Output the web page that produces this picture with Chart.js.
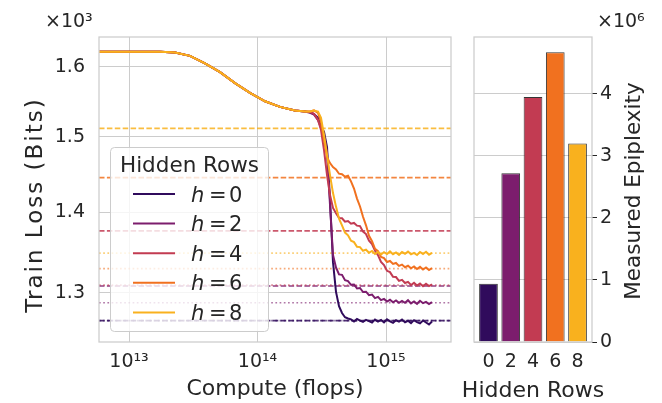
<!DOCTYPE html>
<html>
<head>
<meta charset="utf-8">
<script src="https://cdn.jsdelivr.net/npm/chart.js@4.4.1/dist/chart.umd.min.js"></script>
<style>
  html, body { margin: 0; padding: 0; background: #ffffff; }
  #wrap { position: relative; width: 662px; height: 403px; }
  canvas { position: absolute; top: 0; }
  #loss { left: 0; }
  #epi { left: 462px; }
</style>
</head>
<body>
<div id="wrap">
  <canvas id="loss" width="462" height="403"></canvas>
  <canvas id="epi" width="200" height="403"></canvas>
</div>
<script>
const FONT = 'DejaVu Sans';
const INK = '#262626';
const EDGE = '#cccccc';

// Hidden-row settings and their inferno colours
const hiddenRows = [0, 2, 4, 6, 8];
const rowColors = ['#300b5c', '#7c1d6d', '#c23b52', '#f1711f', '#f9b11e'];

// Training compute (flops) shared by every run
const compute = [
  5.84e12, 1.018e13, 1.743e13, 2.28e13, 2.98e13, 3.90e13, 5.11e13, 6.68e13, 8.74e13,
  1.144e14, 1.497e14, 1.958e14, 2.342e14, 2.563e14, 2.753e14, 2.957e14, 3.120e14,
  3.293e14, 3.475e14, 3.666e14, 3.868e14, 4.082e14, 4.308e14, 4.546e14, 4.797e14,
  5.062e14, 5.341e14, 5.636e14, 5.947e14, 6.277e14, 6.622e14, 6.988e14, 7.374e14,
  7.783e14, 8.212e14, 8.664e14, 9.145e14, 9.647e14, 1.018e15, 1.074e15, 1.134e15,
  1.196e15, 1.262e15, 1.332e15, 1.406e15, 1.483e15, 1.565e15, 1.652e15, 1.743e15,
  1.839e15, 1.941e15, 2.048e15, 2.161e15, 2.280e15
];

// Train loss (bits) — the early phase is identical for all runs
const lossWarmup = [1622, 1622, 1622, 1621, 1616, 1605, 1592, 1576, 1562, 1550, 1542, 1537, 1535.5];
const lossH0 = [...lossWarmup,
  1534.5, 1532, 1526.6, 1515, 1507, 1486, 1416, 1337, 1301, 1284, 1276, 1271, 1269.5,
  1268.5, 1266, 1269, 1267, 1265.5, 1268, 1266.5, 1264.8, 1268.2, 1266, 1267.8, 1265,
  1268.6, 1266.2, 1264.5, 1267.5, 1265.8, 1268.4, 1265, 1266.9, 1264.2, 1267.6, 1265.4,
  1263.8, 1267.2, 1264.9, 1262.6, 1266];
const lossH2 = [...lossWarmup,
  1533.6, 1531, 1523.5, 1512.4, 1502.7, 1479, 1409, 1345.8,
  1330.5, 1322, 1321.5, 1315, 1314, 1309.5, 1309.8, 1305, 1305.6, 1300.8, 1301.2, 1297,
  1297.8, 1293.5, 1295, 1291.2, 1292.6, 1289.4, 1291.5, 1288.6, 1290.8, 1287.9, 1290.2,
  1288, 1291, 1287.2, 1289.6, 1286.8, 1290.4, 1287.5, 1289.1, 1286.4, 1288.8];
const lossH4 = [...lossWarmup,
  1535, 1532.2, 1523.5, 1509.6, 1482, 1448.4, 1422, 1405.2,
  1398.5, 1392.5, 1392, 1387.6, 1388.4, 1385, 1386, 1382.6, 1382, 1375, 1372, 1363.6,
  1359.5, 1351, 1345.6, 1337.2, 1333.5, 1326.4, 1324.8, 1319, 1318.8, 1314.2, 1315.4,
  1311.6, 1313, 1309.2, 1311.8, 1308.6, 1311, 1307.8, 1310.6, 1308, 1310];
const lossH6 = [...lossWarmup,
  1535.5, 1537, 1533.6, 1520.7, 1495.8, 1472.5, 1464.4, 1459,
  1456, 1450.2, 1449.5, 1446.2, 1447.4, 1440, 1430.5, 1417.4, 1407.2, 1394, 1383, 1369.8,
  1363, 1353.5, 1350.6, 1343.4, 1341.9, 1337.2, 1338.4, 1334.8, 1336, 1332.4, 1334,
  1330.8, 1332.6, 1329.5, 1331.8, 1328.6, 1331.2, 1328, 1330.4, 1327.4, 1329.6];
const lossH8 = [...lossWarmup,
  1535.5, 1537, 1535.5, 1526.6, 1502.7, 1475.2, 1448.4, 1424.6,
  1407, 1391.5, 1383, 1373.8, 1370.4, 1363.6, 1361.8, 1356, 1355.6, 1351, 1352.4, 1348.6,
  1350.8, 1347.2, 1349.6, 1346.4, 1349.2, 1347, 1350.2, 1346.8, 1348.9, 1346, 1349.5,
  1347.4, 1350, 1346.6, 1348.4, 1345.8, 1349.6, 1347.1, 1349.8, 1346.2, 1348.5];
const lossRuns = [lossH0, lossH2, lossH4, lossH6, lossH8];

// Reference levels per run (dashed) and converged loss levels (dotted)
const dashedLevels = [1267, 1308, 1376, 1445, 1512];
const dottedLevels = [1267, 1288, 1309, 1329, 1348];

// Measured epiplexity per run
const epiplexity = [0.94e6, 2.72e6, 3.95e6, 4.67e6, 3.20e6];

// Axis limits and tick labels
const computeMin = 5.84e12, computeMax = 3.205e15;
const lossMin = 1242.4, lossMax = 1644.3;
const computeTicks = [1e13, 1e14, 1e15];
const computeTickLabels = ['10\u00b9\u00b3', '10\u00b9\u2074', '10\u00b9\u2075'];
const lossTicks = [1300, 1400, 1500, 1600];
const lossTickLabels = ['1.3', '1.4', '1.5', '1.6'];
const epiTicks = [0, 1e6, 2e6, 3e6, 4e6];
const epiTickLabels = ['0', '1', '2', '3', '4'];
const epiMax = 4.915e6;

function rgba(hex, a) {
  const n = parseInt(hex.slice(1), 16);
  return `rgba(${(n >> 16) & 255},${(n >> 8) & 255},${n & 255},${a})`;
}

// Light grey frame around a plot area, drawn over the data like axes spines
const framePlugin = {
  id: 'frame',
  afterDatasetsDraw(chart) {
    const { ctx, chartArea: a } = chart;
    ctx.save();
    ctx.strokeStyle = EDGE;
    ctx.lineWidth = 1.25;
    ctx.strokeRect(a.left, a.top, a.right - a.left, a.bottom - a.top);
    ctx.restore();
  }
};

// Free-standing text (scale multipliers, axis titles)
function textPlugin(id, text, x, y, size, rotate, opts = {}) {
  return {
    id,
    afterDraw(chart) {
      const ctx = chart.ctx;
      ctx.save();
      ctx.translate(x, y);
      if (rotate) ctx.rotate(rotate);
      ctx.fillStyle = INK;
      ctx.font = `${size}px "${FONT}"`;
      if (opts.spacing) ctx.letterSpacing = opts.spacing;
      ctx.textAlign = opts.align || 'left';
      ctx.textBaseline = opts.baseline || 'alphabetic';
      ctx.fillText(text, 0, 0);
      ctx.restore();
    }
  };
}

// Boxed legend inside the loss plot, built from the run datasets
const runLegendPlugin = {
  id: 'runLegend',
  afterDatasetsDraw(chart) {
    const ctx = chart.ctx;
    const runs = chart.data.datasets.filter(d => d.isRun);
    const bx = 110.5, by = 147.5, bw = 158, bh = 184;
    ctx.save();
    ctx.beginPath();
    ctx.roundRect(bx, by, bw, bh, 4);
    ctx.fillStyle = 'rgba(255,255,255,0.8)';
    ctx.fill();
    ctx.strokeStyle = EDGE;
    ctx.lineWidth = 1;
    ctx.stroke();

    ctx.fillStyle = INK;
    ctx.font = `21.5px "${FONT}"`;
    ctx.textAlign = 'center';
    ctx.textBaseline = 'alphabetic';
    ctx.fillText('Hidden Rows', bx + bw / 2, 172);

    runs.forEach((ds, i) => {
      const y = 194 + i * 29.6;
      ctx.strokeStyle = ds.borderColor;
      ctx.lineWidth = 2;
      ctx.beginPath();
      ctx.moveTo(133, y);
      ctx.lineTo(175, y);
      ctx.stroke();
      ctx.fillStyle = INK;
      ctx.textAlign = 'left';
      ctx.font = `italic 21px "${FONT}"`;
      ctx.fillText('h', 191, y + 7.5);
      ctx.font = `21px "${FONT}"`;
      ctx.fillText('=', 209, y + 7.5);
      ctx.fillText(String(ds.rows), 229, y + 7.5);
    });
    ctx.restore();
  }
};

// ---- Loss curves ----
const lossDatasets = [];
hiddenRows.forEach((h, i) => {
  lossDatasets.push({
    label: `h = ${h}`, isRun: true, rows: h,
    data: compute.map((c, k) => ({ x: c, y: lossRuns[i][k] })),
    borderColor: rowColors[i], borderWidth: 2, pointRadius: 0, tension: 0,
    order: 4 - i
  });
});
hiddenRows.forEach((h, i) => {
  lossDatasets.push({
    label: `reference h = ${h}`,
    data: [{ x: computeMin, y: dashedLevels[i] }, { x: computeMax, y: dashedLevels[i] }],
    borderColor: rgba(rowColors[i], 0.85), borderWidth: 1.7, borderDash: [5.5, 2.4],
    pointRadius: 0, order: 20 + i
  });
  lossDatasets.push({
    label: `final h = ${h}`,
    data: [{ x: computeMin, y: dottedLevels[i] }, { x: computeMax, y: dottedLevels[i] }],
    borderColor: rgba(rowColors[i], 0.6), borderWidth: 1.7, borderDash: [1.7, 2.5],
    pointRadius: 0, order: 10 + i
  });
});

new Chart(document.getElementById('loss'), {
  type: 'line',
  data: { datasets: lossDatasets },
  options: {
    responsive: false, animation: false, devicePixelRatio: 1,
    layout: { padding: { left: 0, right: 11, top: 37, bottom: 0 } },
    plugins: { legend: { display: false }, tooltip: { enabled: false } },
    scales: {
      x: {
        type: 'logarithmic', min: computeMin, max: computeMax,
        afterBuildTicks: s => { s.ticks = computeTicks.map(v => ({ value: v })); },
        afterFit: s => { s.height = 61; },
        ticks: {
          autoSkip: false, maxRotation: 0, padding: 9, color: INK,
          font: { family: FONT, size: 19 },
          callback: (v) => computeTickLabels[computeTicks.indexOf(v)]
        },
        grid: { color: EDGE, lineWidth: 1, drawTicks: false },
        border: { display: false },
        title: { display: true, text: 'Compute (flops)', color: INK,
                 font: { family: FONT, size: 22 }, padding: { top: 0, bottom: 1 } }
      },
      y: {
        type: 'logarithmic', min: lossMin, max: lossMax,
        afterBuildTicks: s => { s.ticks = lossTicks.map(v => ({ value: v })); },
        afterFit: s => { s.width = 99; },
        ticks: {
          autoSkip: false, padding: 14, color: INK,
          font: { family: FONT, size: 19 },
          callback: (v) => lossTickLabels[lossTicks.indexOf(v)]
        },
        grid: { color: EDGE, lineWidth: 1, drawTicks: false },
        border: { display: false }
      }
    }
  },
  plugins: [
    framePlugin, runLegendPlugin,
    textPlugin('lossTitle', 'Train Loss (Bits)', 36, 205, 23, -Math.PI / 2,
               { align: 'center', baseline: 'middle', spacing: '2px' }),
    textPlugin('lossScale', '\u00d710\u00b3', 45, 27, 19, 0)
  ]
});

// ---- Epiplexity bars ----
new Chart(document.getElementById('epi'), {
  type: 'bar',
  data: {
    datasets: [{
      label: 'Measured Epiplexity',
      data: hiddenRows.map((h, i) => ({ x: i, y: epiplexity[i] })),
      backgroundColor: rowColors,
      borderColor: 'rgba(30,30,30,0.9)', borderWidth: 1,
      categoryPercentage: 1, barPercentage: 0.84
    }]
  },
  options: {
    responsive: false, animation: false, devicePixelRatio: 1,
    layout: { padding: { left: 12, right: 0, top: 37, bottom: 0 } },
    plugins: { legend: { display: false }, tooltip: { enabled: false } },
    scales: {
      x: {
        type: 'linear', min: -0.65, max: 4.65, offset: false,
        afterBuildTicks: s => { s.ticks = hiddenRows.map((h, i) => ({ value: i })); },
        afterFit: s => { s.height = 61; },
        ticks: {
          autoSkip: false, maxRotation: 0, padding: 9, color: INK,
          font: { family: FONT, size: 19 },
          callback: (v) => String(hiddenRows[v])
        },
        grid: { display: false, drawTicks: false },
        border: { display: false }
      },
      y: {
        position: 'right', min: 0, max: epiMax,
        afterBuildTicks: s => { s.ticks = epiTicks.map(v => ({ value: v })); },
        afterFit: s => { s.width = 70; },
        ticks: {
          autoSkip: false, padding: 3, color: INK,
          font: { family: FONT, size: 19 },
          callback: (v) => epiTickLabels[epiTicks.indexOf(v)]
        },
        grid: { color: EDGE, lineWidth: 1, drawTicks: true, tickLength: 5, tickColor: INK },
        border: { display: false }
      }
    }
  },
  plugins: [
    framePlugin,
    textPlugin('epiTitle', 'Measured Epiplexity', 172, 191, 21.5, -Math.PI / 2,
               { align: 'center', baseline: 'middle' }),
    textPlugin('epiXTitle', 'Hidden Rows', 71, 397, 22, 0, { align: 'center' }),
    textPlugin('epiScale', '\u00d710\u2076', 135, 27, 19, 0)
  ]
});
</script>
</body>
</html>
